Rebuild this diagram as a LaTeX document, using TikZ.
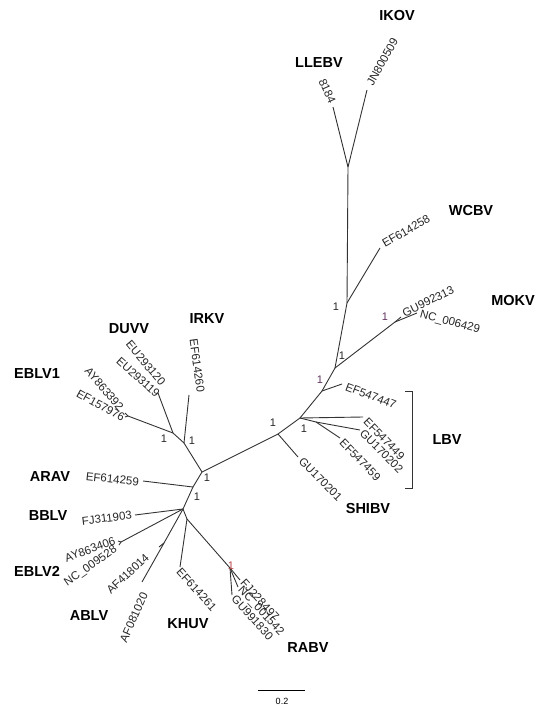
\documentclass[tikz,border=0pt]{standalone}
\usepackage{fontspec}
\setmainfont{Liberation Sans}
\begin{document}
\begin{tikzpicture}[x=1pt,y=-1pt,
  br/.style={draw=black!80, line width=0.9pt},
  acc/.style={font=\fontsize{11.5}{12}\selectfont, text=black!85, inner sep=1pt},
  sp/.style={font=\fontsize{14.5}{15}\selectfont\bfseries, inner sep=0pt},
  bs/.style={font=\fontsize{11}{12}\selectfont, inner sep=0pt, text=black!85},
  bsg/.style={bs, text=black!55!violet!80},
  bsr/.style={bs, text=red!45!gray}]
\useasboundingbox (0,0) rectangle (538,709);
% internal nodes
\coordinate (A) at (202,472);
\coordinate (B) at (278,434);
\coordinate (C) at (300,418);
\coordinate (C2) at (316,422);
\coordinate (D) at (322,391);
\coordinate (E) at (335,368);
\coordinate (F) at (347,303);
\coordinate (G) at (395,322);
\coordinate (H) at (348,167);
\coordinate (I) at (184,443);
\coordinate (J) at (173,433);
\coordinate (R) at (128,416);
\coordinate (K) at (193,487);
\coordinate (L) at (183,509);
\coordinate (N) at (121,542);
\coordinate (M) at (164,543);
\coordinate (P) at (187,519);
\coordinate (Q) at (230,568);
% leaves
\coordinate (lGU170201) at (298,457);
\coordinate (lEF547449) at (363,417);
\coordinate (lGU170202) at (360,430);
\coordinate (lEF547459) at (340,438);
\coordinate (lEF547447) at (342,384);
\coordinate (lNC006429) at (417,313);
\coordinate (lGU992313) at (401,317);
\coordinate (lEF614258) at (380,248);
\coordinate (l8184) at (333,107);
\coordinate (lJN800509) at (367,90);
\coordinate (lEF614260) at (189,395);
\coordinate (lDUVV) at (158,393);
\coordinate (lAY863392) at (125,413);
\coordinate (lEF157976) at (125,417);
\coordinate (lARAV) at (143,481);
\coordinate (lFJ311903) at (135,515);
\coordinate (lAY863406) at (118,541);
\coordinate (lNC009528) at (119,545);
\coordinate (lAF418014) at (159,547);
\coordinate (lAF081020) at (142,582);
\coordinate (lEF614261) at (180,567);
\coordinate (lFJ228497) at (240,580);
\coordinate (lNC001542) at (238,587);
\coordinate (lGU991830) at (232,595);
% branches
\draw[br] (A) -- (B);
\draw[br] (B) -- (lGU170201);
\draw[br] (B) -- (C);
\draw[br] (C) -- (lEF547449);
\draw[br] (C) -- (C2);
\draw[br] (C2) -- (lGU170202);
\draw[br] (C2) -- (lEF547459);
\draw[br] (C) -- (D);
\draw[br] (D) -- (lEF547447);
\draw[br] (D) -- (E);
\draw[br] (E) -- (G);
\draw[br] (G) -- (lNC006429);
\draw[br] (G) -- (lGU992313);
\draw[br] (E) -- (F);
\draw[br] (F) -- (lEF614258);
\draw[br] (F) -- (H);
\draw[br] (H) -- (l8184);
\draw[br] (H) -- (lJN800509);
\draw[br] (A) -- (I);
\draw[br] (I) -- (lEF614260);
\draw[br] (I) -- (J);
\draw[br] (J) -- (lDUVV);
\draw[br] (J) -- (R);
\draw[br] (R) -- (lAY863392);
\draw[br] (R) -- (lEF157976);
\draw[br] (A) -- (K);
\draw[br] (K) -- (lARAV);
\draw[br] (K) -- (L);
\draw[br] (L) -- (lFJ311903);
\draw[br] (L) -- (N);
\draw[br] (N) -- (lAY863406);
\draw[br] (N) -- (lNC009528);
\draw[br] (L) -- (M);
\draw[br] (M) -- (lAF418014);
\draw[br] (M) -- (lAF081020);
\draw[br] (L) -- (P);
\draw[br] (P) -- (lEF614261);
\draw[br] (P) -- (Q);
\draw[br] (Q) -- (lFJ228497);
\draw[br] (Q) -- (lNC001542);
\draw[br] (Q) -- (lGU991830);
% accession labels, right side
\node[acc, anchor=west, rotate=61] (tJN800509) at (369,86) {JN800509};
\node[acc, anchor=east, rotate=-66] (t8184) at (333,104) {8184};
\node[acc, anchor=west, rotate=30] (tEF614258) at (382,245) {EF614258};
\node[acc, anchor=west, rotate=26] (tGU992313) at (402,314) {GU992313};
\node[acc, anchor=west, rotate=-15] (tNC006429) at (419,314) {NC\_006429};
\node[acc, anchor=west, rotate=-21] (tEF547447) at (345,386) {EF547447};
\node[acc, anchor=west, rotate=-46] (tEF547449) at (365,419) {EF547449};
\node[acc, anchor=west, rotate=-45] (tGU170202) at (361,431) {GU170202};
\node[acc, anchor=west, rotate=-46] (tEF547459) at (341,440) {EF547459};
\node[acc, anchor=west, rotate=-45] (tGU170201) at (300,459) {GU170201};
\node[acc, anchor=west, rotate=-48] (tEF614261) at (178,569) {EF614261};
\node[acc, anchor=west, rotate=-48] (tFJ228497) at (242,580) {FJ228497};
\node[acc, anchor=west, rotate=-47] (tNC001542) at (239,588) {NC\_001542};
\node[acc, anchor=west, rotate=-48] (tGU991830) at (233,596) {GU991830};
% accession labels, left side
\node[acc, anchor=east, rotate=-82] (tEF614260) at (201,393) {EF614260};
\node[acc, anchor=east, rotate=-50] (tEU293120) at (164,385) {EU293120};
\node[acc, anchor=east, rotate=-42] (tEU293119) at (159,396) {EU293119};
\node[acc, anchor=east, rotate=-50] (tAY863392) at (122,410) {AY863392};
\node[acc, anchor=east, rotate=-29] (tEF157976) at (125,419) {EF157976};
\node[acc, anchor=east, rotate=-6] (tEF614259) at (140,482) {EF614259};
\node[acc, anchor=east, rotate=7] (tFJ311903) at (133,515) {FJ311903};
\node[acc, anchor=east, rotate=20] (tAY863406) at (116,540) {AY863406};
\node[acc, anchor=east, rotate=35] (tNC009528) at (117,548) {NC\_009528};
\node[acc, anchor=east, rotate=43] (tAF418014) at (148,555) {AF418014};
\node[acc, anchor=east, rotate=66] (tAF081020) at (145,592) {AF081020};
% support values
\node[bs] (bA) at (207,478) {1};
\node[bs] (bK) at (197,497) {1};
\node[bs] (bB) at (273,423) {1};
\node[bs] (bC) at (304,429) {1};
\node[bsg] (bD) at (320,380) {1};
\node[bs] (bE) at (342,356) {1};
\node[bs] (bF) at (336,307) {1};
\node[bsg] (bG) at (385,317) {1};
\node[bs] (bI) at (192,441) {1};
\node[bs] (bJ) at (164,439) {1};
\node[bsr] (bQ) at (231,566) {1};
% species labels
\node[sp] (IKOV) at (397,16) {IKOV};
\node[sp] (LLEBV) at (319,63) {LLEBV};
\node[sp] (WCBV) at (471,211) {WCBV};
\node[sp] (MOKV) at (513,301) {MOKV};
\node[sp] (LBV) at (447,440) {LBV};
\node[sp] (SHIBV) at (368,509) {SHIBV};
\node[sp] (IRKV) at (207,319) {IRKV};
\node[sp] (DUVV) at (129,329) {DUVV};
\node[sp] (EBLV1) at (37,374) {EBLV1};
\node[sp] (ARAV) at (50,477) {ARAV};
\node[sp] (BBLV) at (48,516) {BBLV};
\node[sp] (EBLV2) at (37,571) {EBLV2};
\node[sp] (ABLV) at (89,616) {ABLV};
\node[sp] (KHUV) at (188,624) {KHUV};
\node[sp] (RABV) at (308,648) {RABV};
% LBV bracket
\coordinate (k1) at (405,391);
\coordinate (k2) at (412,391);
\coordinate (k3) at (412,488);
\coordinate (k4) at (405,488);
\draw[br, line width=0.7pt] (k1) -- (k2) -- (k3) -- (k4);
% scale bar
\coordinate (s1) at (258,690);
\coordinate (s2) at (305,690);
\draw[draw=black, line width=0.9pt] (s1) -- (s2);
\node[font=\fontsize{9}{10}\selectfont, inner sep=0pt] (scl) at (282,701) {0.2};
\end{tikzpicture}
\end{document}
